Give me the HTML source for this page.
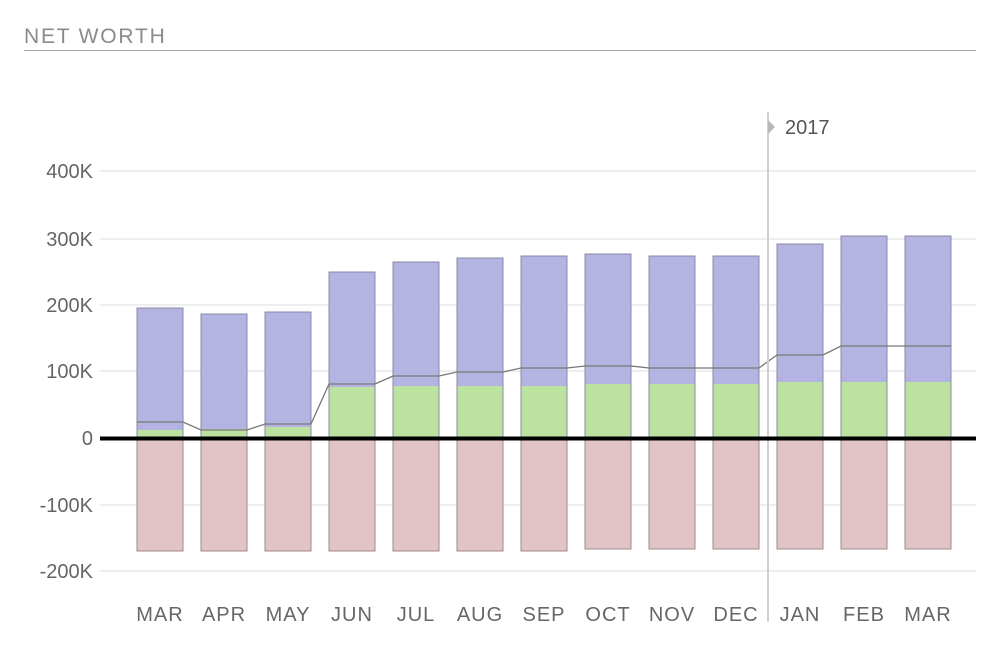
<!DOCTYPE html>
<html><head><style>body{margin:0;background:#fff;}svg{display:block}</style></head><body>
<svg width="1008" height="666" xmlns="http://www.w3.org/2000/svg" font-family="Liberation Sans, sans-serif">
<text x="24" y="43" font-size="21" fill="#8a8a8a" letter-spacing="1.8">NET WORTH</text>
<line x1="24" y1="50.5" x2="976" y2="50.5" stroke="#aaa" stroke-width="1"/>
<g stroke="#e8e8e8" stroke-width="1.5">
<line x1="100" y1="171" x2="976" y2="171"/><line x1="100" y1="239" x2="976" y2="239"/>
<line x1="100" y1="305" x2="976" y2="305"/><line x1="100" y1="371" x2="976" y2="371"/>
<line x1="100" y1="505" x2="976" y2="505"/><line x1="100" y1="571" x2="976" y2="571"/>
</g>
<g font-size="20" fill="#666" text-anchor="end">
<text x="93" y="178">400K</text><text x="93" y="246">300K</text><text x="93" y="312">200K</text>
<text x="93" y="378">100K</text><text x="93" y="445">0</text><text x="93" y="512">-100K</text><text x="93" y="578">-200K</text>
</g>
<g fill="#b4b4e2" stroke="#8888a8" stroke-width="1">
<rect x="137" y="308" width="46" height="130"/><rect x="201" y="314" width="46" height="124"/>
<rect x="265" y="312" width="46" height="126"/><rect x="329" y="272" width="46" height="166"/>
<rect x="393" y="262" width="46" height="176"/><rect x="457" y="258" width="46" height="180"/>
<rect x="521" y="256" width="46" height="182"/><rect x="585" y="254" width="46" height="184"/>
<rect x="649" y="256" width="46" height="182"/><rect x="713" y="256" width="46" height="182"/>
<rect x="777" y="244" width="46" height="194"/><rect x="841" y="236" width="46" height="202"/>
<rect x="905" y="236" width="46" height="202"/>
</g>
<g fill="#bce2a0">
<rect x="137.5" y="430" width="45" height="8"/><rect x="201.5" y="429" width="45" height="9"/>
<rect x="265.5" y="427" width="45" height="11"/><rect x="329.5" y="387" width="45" height="51"/>
<rect x="393.5" y="386" width="45" height="52"/><rect x="457.5" y="386" width="45" height="52"/>
<rect x="521.5" y="386" width="45" height="52"/><rect x="585.5" y="384" width="45" height="54"/>
<rect x="649.5" y="384" width="45" height="54"/><rect x="713.5" y="384" width="45" height="54"/>
<rect x="777.5" y="382" width="45" height="56"/><rect x="841.5" y="382" width="45" height="56"/>
<rect x="905.5" y="382" width="45" height="56"/>
</g>
<g fill="#e2c4c6" stroke="#a08888" stroke-width="1">
<rect x="137" y="438" width="46" height="113"/><rect x="201" y="438" width="46" height="113"/>
<rect x="265" y="438" width="46" height="113"/><rect x="329" y="438" width="46" height="113"/>
<rect x="393" y="438" width="46" height="113"/><rect x="457" y="438" width="46" height="113"/>
<rect x="521" y="438" width="46" height="113"/><rect x="585" y="438" width="46" height="111"/>
<rect x="649" y="438" width="46" height="111"/><rect x="713" y="438" width="46" height="111"/>
<rect x="777" y="438" width="46" height="111"/><rect x="841" y="438" width="46" height="111"/>
<rect x="905" y="438" width="46" height="111"/>
</g>
<polyline fill="none" stroke="#777" stroke-width="1.3" points="137,422 183,422 201,430 247,430 265,424 311,424 329,384 375,384 393,376 439,376 457,372 503,372 521,368 567,368 585,366 631,366 649,368 695,368 713,368 759,368 777,355 823,355 841,346 887,346 905,346 951,346"/>
<line x1="768" y1="112" x2="768" y2="622" stroke="#d0d0d0" stroke-width="2"/>
<polygon points="768,120 775,127 768,134" fill="#b8b8b8"/>
<text x="785" y="134" font-size="20" fill="#555">2017</text>
<line x1="100" y1="438.5" x2="976" y2="438.5" stroke="#000" stroke-width="4"/>
<g font-size="20" fill="#666" text-anchor="middle" letter-spacing="1">
<text x="160" y="621">MAR</text><text x="224" y="621">APR</text><text x="288" y="621">MAY</text>
<text x="352" y="621">JUN</text><text x="416" y="621">JUL</text><text x="480" y="621">AUG</text>
<text x="544" y="621">SEP</text><text x="608" y="621">OCT</text><text x="672" y="621">NOV</text>
<text x="736" y="621">DEC</text><text x="800" y="621">JAN</text><text x="864" y="621">FEB</text>
<text x="928" y="621">MAR</text>
</g>
</svg>
</body></html>
